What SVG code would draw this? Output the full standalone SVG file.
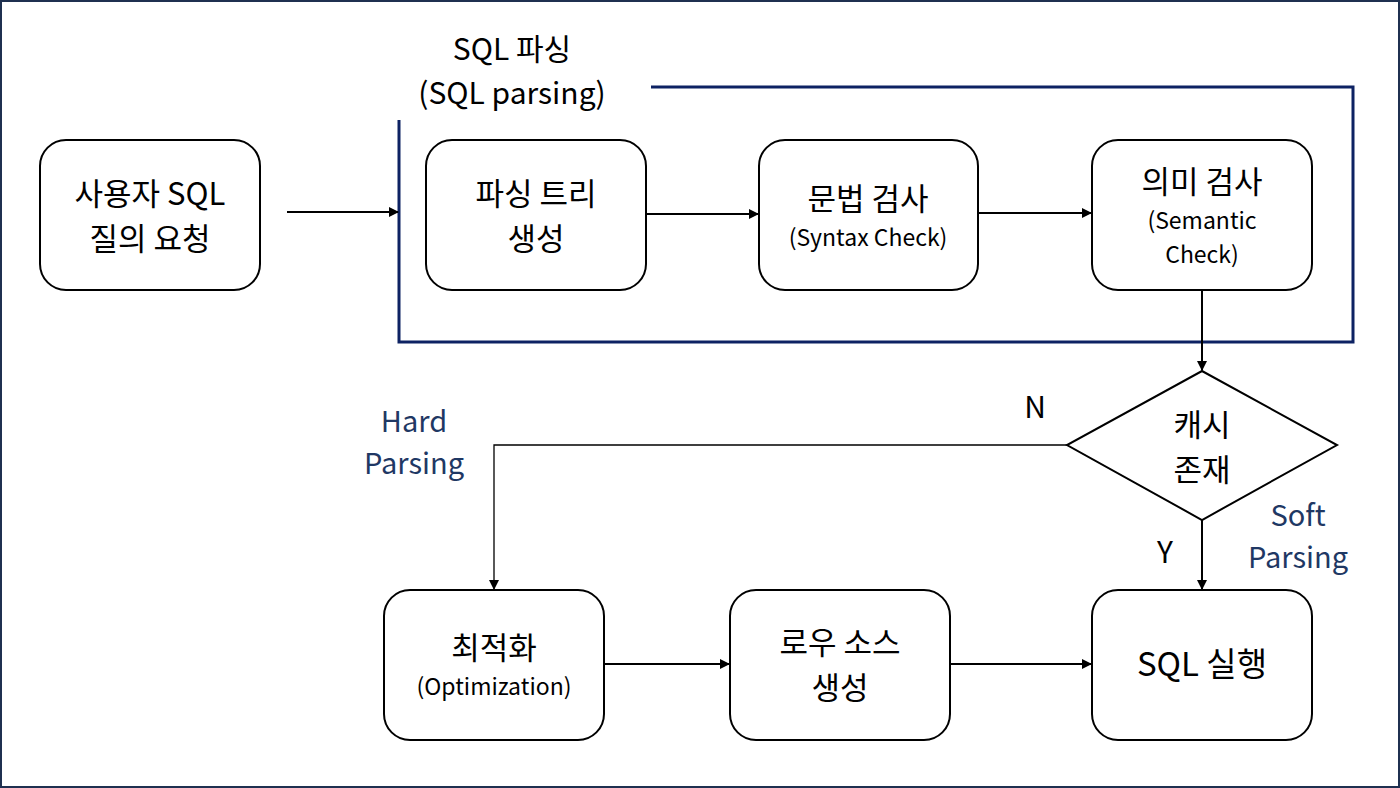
<svg xmlns="http://www.w3.org/2000/svg" width="1400" height="788" viewBox="0 0 1400 788">
<style>
.node{fill:#fff;stroke:#000;stroke-width:2}
.t{font-family:"Noto Sans CJK KR","Noto Sans",sans-serif;fill:#000;text-anchor:middle}
.big{font-size:31px}
.sm{font-size:23px}
.blue{fill:#1f3864;font-size:29px}
.c{fill:none;stroke:#000;stroke-width:2}
.c1{fill:none;stroke:#000;stroke-width:1.3}
</style>
<defs>
<marker id="ah" markerWidth="10" markerHeight="10" refX="9" refY="5" orient="auto" markerUnits="userSpaceOnUse"><path d="M0,0 L10,5 L0,10 Z" fill="#000"/></marker>
</defs>
<rect x="1" y="1" width="1398" height="786" fill="#fff" stroke="#1f3050" stroke-width="2"/>
<g id="group-parsing">
<path d="M651,87 H1353 V342 H399 V120" fill="none" stroke="#0d2263" stroke-width="3"/>
<text class="t" font-size="30"><tspan x="512" y="60">SQL 파싱</tspan><tspan x="512" y="104">(SQL parsing)</tspan></text>
</g>
<g id="connectors">
<path class="c" d="M287,212 H398" marker-end="url(#ah)"/>
<path class="c" d="M646,214 H758" marker-end="url(#ah)"/>
<path class="c" d="M978,213 H1091" marker-end="url(#ah)"/>
<path class="c" d="M1202,290 V370" marker-end="url(#ah)"/>
<path class="c1" d="M1067,445 H494 V589" marker-end="url(#ah)"/>
<path class="c" d="M1202,520 V589" marker-end="url(#ah)"/>
<path class="c" d="M604,664 H729" marker-end="url(#ah)"/>
<path class="c" d="M950,664 H1091" marker-end="url(#ah)"/>
<text class="t" x="1035" y="418" font-size="30">N</text>
<text class="t" x="1165" y="563" font-size="30">Y</text>
<text class="t blue"><tspan x="414" y="432">Hard</tspan><tspan x="414" y="474">Parsing</tspan></text>
<text class="t blue"><tspan x="1298" y="526">Soft</tspan><tspan x="1298" y="568">Parsing</tspan></text>
</g>
<g id="n-request">
<rect class="node" x="40" y="140" width="220" height="150" rx="26"/>
<text class="t big"><tspan x="150" y="205">사용자 SQL</tspan><tspan x="150" y="250">질의 요청</tspan></text>
</g>
<g id="n-tree">
<rect class="node" x="426" y="140" width="220" height="150" rx="26"/>
<text class="t big"><tspan x="536" y="205">파싱 트리</tspan><tspan x="536" y="250">생성</tspan></text>
</g>
<g id="n-syntax">
<rect class="node" x="759" y="140" width="219" height="150" rx="26"/>
<text class="t"><tspan class="big" x="868" y="210">문법 검사</tspan><tspan class="sm" x="868" y="246">(Syntax Check)</tspan></text>
</g>
<g id="n-semantic">
<rect class="node" x="1092" y="140" width="220" height="150" rx="26"/>
<text class="t"><tspan class="big" x="1202" y="193">의미 검사</tspan><tspan class="sm" x="1202" y="229">(Semantic</tspan><tspan class="sm" x="1202" y="263">Check)</tspan></text>
</g>
<g id="n-cache">
<path class="node" d="M1202,371 L1337,445 L1202,520 L1067,445 Z"/>
<text class="t big"><tspan x="1202" y="436">캐시</tspan><tspan x="1202" y="481">존재</tspan></text>
</g>
<g id="n-opt">
<rect class="node" x="384" y="590" width="220" height="150" rx="26"/>
<text class="t"><tspan class="big" x="494" y="659">최적화</tspan><tspan class="sm" x="494" y="695">(Optimization)</tspan></text>
</g>
<g id="n-rowsource">
<rect class="node" x="730" y="590" width="220" height="150" rx="26"/>
<text class="t big"><tspan x="840" y="654">로우 소스</tspan><tspan x="840" y="699">생성</tspan></text>
</g>
<g id="n-exec">
<rect class="node" x="1092" y="590" width="220" height="150" rx="26"/>
<text class="t" font-size="33" x="1202" y="676">SQL 실행</text>
</g>
</svg>
